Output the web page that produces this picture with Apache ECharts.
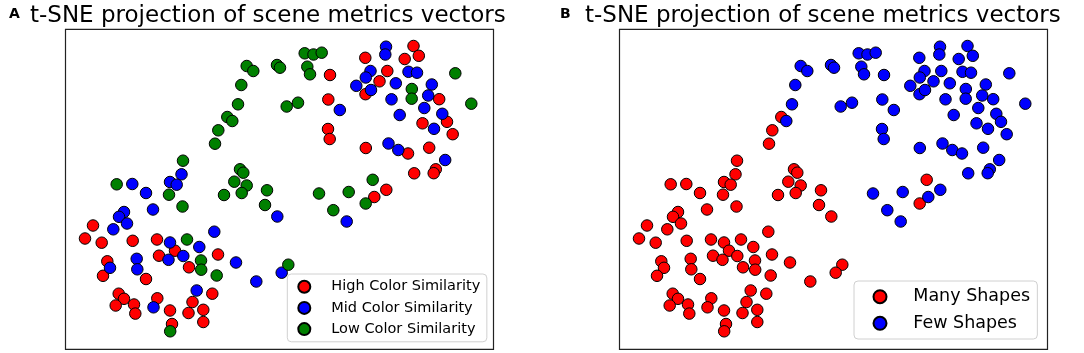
<!DOCTYPE html>
<html>
<head>
<meta charset="utf-8">
<script src="https://cdn.jsdelivr.net/npm/echarts@6/dist/echarts.min.js"></script>
<style>
  html, body { margin: 0; padding: 0; background: #fff; }
  #chart { width: 1084px; height: 353px; }
</style>
</head>
<body>
<div id="chart"></div>
<script>
// t-SNE coordinates (same embedding in both panels)
const tsneX = [181.2,187.8,211.5,214.5,175.8,172.5,161.8,166.8,152.8,149.5,117.5,116.0,104.5,111.2,51.2,66.8,80.5,103.5,174.5,177.8,168.8,181.2,176.2,158.5,201.5,199.5,211.8,
  239.2,248.0,256.2,241.8,244.5,264.5,221.2,232.5,262.8,274.3,262.5,264.2,300.3,323.0,332.8,342.5,363.7,379.7,348.7,370.3,368.2,299.8,320.5,319.8,348.0,353.3,339.2,305.0,300.3,321.8,314.0,290.8,300.0,305.5,330.3,326.0,343.0,351.5,346.3,346.2,366.3,362.7,373.7,358.8,376.8,381.5,357.0,368.5,387.2,334.2,389.8,405.8,
  307.2,320.8,308.8,300.2,253.5,283.2,267.8,281.2,222.8,216.2,
  87.5,117.0,58.5,53.5,61.5,47.8,27.5,19.5,36.2,67.2,91.5,104.5,121.5,148.8,133.8,109.5,93.5,103.0,117.8,152.5,135.5,135.7,123.5,151.2,170.5,190.8,71.2,71.8,80.5,41.8,44.5,37.5,53.2,58.5,50.2,68.5,69.8,91.8,88.0,104.5,106.5,104.7,131.2,127.0,123.0,137.8,137.8,146.8];
const tsneY = [283.3,278.3,284.3,281.6,264.3,245.0,232.3,228.3,219.0,205.6,188.6,175.0,167.3,164.6,165.0,165.3,156.3,154.6,180.0,176.6,167.6,163.8,156.3,154.3,159.0,144.3,132.8,
  296.0,294.8,296.6,282.6,275.0,274.3,242.8,246.6,249.8,239.3,220.3,210.3,201.3,205.8,199.3,195.8,201.6,189.3,176.0,180.0,176.1,291.5,302.6,294.8,303.3,293.5,290.3,278.3,271.8,278.3,268.0,263.5,255.1,259.3,266.0,250.0,277.5,276.6,260.3,250.6,264.8,253.8,250.1,241.3,235.5,227.5,226.0,220.5,215.1,234.3,276.0,245.6,
  169.5,159.5,152.3,145.8,155.8,157.3,139.1,127.8,84.6,76.6,
  139.8,142.8,137.3,132.5,125.8,120.0,123.8,110.8,106.6,108.5,109.8,106.8,109.8,117.6,102.3,98.6,93.6,89.5,93.3,94.8,88.8,79.6,82.0,73.8,86.8,67.8,90.5,80.0,70.3,88.0,81.5,73.5,55.6,50.5,43.8,44.8,35.7,51.0,42.0,38.8,25.3,18.0,58.8,47.3,36.3,39.5,27.3,55.6];
// panel A: color similarity (H / M / L)
const colorSim = ["L","L","L","L","L","L","L","L","L","L","L","M","M","M","L","M","M","L","L","L","L","L","L","L","L","L","M",
  "L","L","L","L","L","H","L","L","H","M","H","H","H","M","M","H","H","M","H","H","H","H","M","M","H","H","H","M","M","H","H","M","H","M","M","M","M","M","L","L","M","M","H","M","M","H","H","M","H","M","L","L",
  "L","H","H","L","L","L","L","M","L","M",
  "M","L","M","M","M","M","H","H","H","H","H","M","L","M","M","H","H","M","M","H","L","L","H","L","M","M","M","M","H","H","M","H","H","H","H","H","H","H","M","H","H","L","M","H","H","H","H","H"];
// panel B: shape count (M = many, F = few)
const shapeCount = ["F","F","F","F","F","F","M","F","M","M","M","M","M","M","M","M","M","M","M","M","M","M","M","M","M","M","M",
  "F","F","F","F","F","F","F","F","F","F","F","F","F","F","F","F","F","F","F","F","F","F","F","F","F","F","F","F","F","F","F","F","F","F","F","F","F","F","F","F","F","F","F","F","F","F","F","F","F","F","F","F",
  "M","F","F","M","F","F","F","F","M","M",
  "M","M","M","M","M","M","M","M","M","M","M","M","M","M","M","M","M","M","M","M","M","M","M","M","M","M","M","M","M","M","M","M","M","M","M","M","M","M","M","M","M","M","M","M","M","M","M","M"];

const colorNames = { H: "High Color Similarity", M: "Mid Color Similarity", L: "Low Color Similarity" };
const shapeNames = { M: "Many Shapes", F: "Few Shapes" };
const fills = { red: "#ff0000", blue: "#0000ff", green: "#008000" };

function pick(labels, key) {
  const out = [];
  for (let i = 0; i < tsneX.length; i++) {
    if (labels[i] === key) out.push([tsneX[i], tsneY[i]]);
  }
  return out;
}

function scatter(name, idx, data, color) {
  return {
    name: name,
    type: "scatter",
    xAxisIndex: idx,
    yAxisIndex: idx,
    data: data,
    symbolSize: 11.5,
    itemStyle: { color: color, borderColor: "#000", borderWidth: 1, opacity: 1 },
    emphasis: { disabled: true }
  };
}

const chart = echarts.init(document.getElementById("chart"));
const titleFont = "DejaVu Sans";
chart.setOption({
  animation: false,
  title: [
    { text: "A", left: 9, top: 7, padding: 0, textStyle: { fontFamily: titleFont, fontWeight: "bold", fontSize: 14, color: "#000" } },
    { text: "t-SNE projection of scene metrics vectors", left: 30, top: 5, padding: 0, textStyle: { fontFamily: titleFont, fontWeight: "normal", fontSize: 23, color: "#000" } },
    { text: "B", left: 560, top: 7, padding: 0, textStyle: { fontFamily: titleFont, fontWeight: "bold", fontSize: 14, color: "#000" } },
    { text: "t-SNE projection of scene metrics vectors", left: 585, top: 5, padding: 0, textStyle: { fontFamily: titleFont, fontWeight: "normal", fontSize: 23, color: "#000" } }
  ],
  grid: [
    { left: 65.5, top: 29.3, width: 428, height: 320, show: true, borderColor: "#222", borderWidth: 1.2, backgroundColor: "#fff" },
    { left: 619.5, top: 29.3, width: 428, height: 320, show: true, borderColor: "#222", borderWidth: 1.2, backgroundColor: "#fff" }
  ],
  xAxis: [
    { gridIndex: 0, type: "value", min: 0, max: 428, show: false },
    { gridIndex: 1, type: "value", min: 0, max: 428, show: false }
  ],
  yAxis: [
    { gridIndex: 0, type: "value", min: 0, max: 320, show: false },
    { gridIndex: 1, type: "value", min: 0, max: 320, show: false }
  ],
  legend: [
    {
      data: [colorNames.H, colorNames.M, colorNames.L],
      orient: "vertical",
      left: 287.3,
      top: 274,
      padding: [4.2, 6.6, 4.2, 10],
      itemWidth: 20,
      itemHeight: 12,
      itemGap: 4.2,
      icon: "circle",
      selectedMode: false,
      backgroundColor: "rgba(255,255,255,0.8)",
      borderColor: "#d0d0d0",
      borderWidth: 1,
      borderRadius: 4,
      textStyle: { fontFamily: "DejaVu Sans", fontSize: 14.5, color: "#000", lineHeight: 17, padding: [0, 0, 0, 12] }
    },
    {
      data: [shapeNames.M, shapeNames.F],
      orient: "vertical",
      left: 854,
      top: 281,
      padding: [5.7, 7.3, 5.7, 18.5],
      itemWidth: 13,
      itemHeight: 13,
      itemGap: 6.6,
      icon: "circle",
      selectedMode: false,
      backgroundColor: "rgba(255,255,255,0.8)",
      borderColor: "#d0d0d0",
      borderWidth: 1,
      borderRadius: 4,
      textStyle: { fontFamily: "DejaVu Sans", fontSize: 17.5, color: "#000", lineHeight: 20, padding: [0, 0, 0, 21.8] }
    }
  ],
  series: [
    scatter(colorNames.H, 0, pick(colorSim, "H"), fills.red),
    scatter(colorNames.M, 0, pick(colorSim, "M"), fills.blue),
    scatter(colorNames.L, 0, pick(colorSim, "L"), fills.green),
    scatter(shapeNames.M, 1, pick(shapeCount, "M"), fills.red),
    scatter(shapeNames.F, 1, pick(shapeCount, "F"), fills.blue)
  ]
});
</script>
</body>
</html>
